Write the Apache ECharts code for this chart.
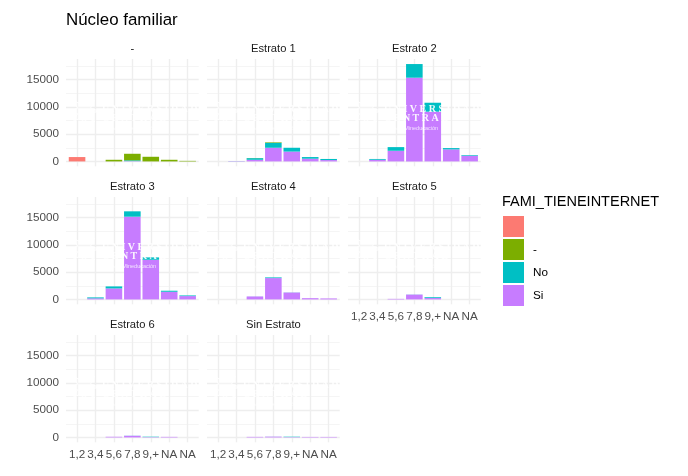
<!DOCTYPE html>
<html>
<head>
<meta charset="utf-8">
<script src="https://cdn.jsdelivr.net/npm/echarts@6/dist/echarts.min.js"></script>
<style>html,body{margin:0;padding:0;background:#fff}#c{width:688px;height:476px}</style>
</head>
<body>
<div id="c"></div>
<script>
const chartTitle = 'Núcleo familiar';
const legendTitle = 'FAMI_TIENEINTERNET';
const panelNames = ['-', 'Estrato 1', 'Estrato 2', 'Estrato 3', 'Estrato 4', 'Estrato 5', 'Estrato 6', 'Sin Estrato'];
const xLabels = ['1,2', '3,4', '5,6', '7,8', '9,+', 'NA', 'NA'];
const xPositions = [1, 2, 3, 4, 5, 6, 7];
const yMajor = [0, 5000, 10000, 15000];
const yMinor = [2500, 7500, 12500, 17500];
const seriesNames = [' ', '-', 'No', 'Si'];
const seriesColors = ['#FC7A72', '#7CAE00', '#00BFC4', '#C77CFF'];

// each list: one value per x category, per panel
const blank = [
  [800, 0, 0, 0, 0, 0, 0],
  [0, 0, 0, 0, 0, 0, 0],
  [0, 0, 0, 0, 0, 0, 0],
  [0, 0, 0, 0, 0, 0, 0],
  [0, 0, 0, 0, 0, 0, 0],
  [0, 0, 0, 0, 0, 0, 0],
  [0, 0, 0, 0, 0, 0, 0],
  [0, 0, 0, 0, 0, 0, 0]
];
const dash = [
  [0, 0, 300, 1200, 850, 300, 100],
  [0, 0, 20, 100, 0, 0, 0],
  [0, 0, 0, 0, 0, 0, 0],
  [0, 0, 0, 0, 0, 0, 0],
  [0, 0, 0, 0, 0, 0, 0],
  [0, 0, 0, 0, 0, 0, 0],
  [0, 0, 0, 0, 0, 0, 0],
  [0, 0, 0, 0, 0, 0, 0]
];
const no = [
  [0, 0, 0, 150, 0, 0, 0],
  [0, 20, 300, 900, 700, 300, 200],
  [0, 150, 670, 2500, 1640, 240, 120],
  [0, 170, 370, 980, 430, 190, 120],
  [0, 0, 10, 130, 20, 0, 0],
  [0, 0, 0, 20, 150, 0, 0],
  [0, 0, 0, 20, 70, 0, 0],
  [0, 0, 0, 10, 70, 0, 0]
];
const si = [
  [0, 0, 0, 50, 0, 0, 0],
  [0, 60, 300, 2500, 1800, 500, 250],
  [0, 300, 1950, 15320, 9100, 2200, 1040],
  [0, 200, 2010, 15140, 7260, 1400, 610],
  [0, 0, 540, 3900, 1260, 230, 180],
  [0, 0, 100, 880, 250, 0, 0],
  [0, 0, 120, 300, 60, 100, 0],
  [0, 0, 100, 140, 60, 90, 90]
];

const valuesBySeries = [blank, dash, no, si];

const panelLefts = [66, 207, 348];
const rowTops = [59, 197, 335];
const panelW = 132.7, panelH = 107.3;
const yMin = -893, yMax = 18743;
const xPad = 0.6;                 // x expansion of the original plot, in category units
const step = panelW / (xLabels.length - 1 + 2 * xPad);
const inset = (xPad - 0.5) * step;
const GRID = '#EEEEEE', GRID_MINOR = '#F5F5F5';
const LABEL = {fontFamily: 'Liberation Sans', fontSize: 11.7, color: '#4D4D4D'};

const grids = [], xAxes = [], yAxes = [], series = [], titles = [], graphics = [];

titles.push({text: chartTitle, left: 66, top: 12, padding: 0, textStyle: {fontFamily: 'Liberation Sans', fontSize: 16.9, fontWeight: 'normal', color: '#000'}});
titles.push({text: legendTitle, left: 502, top: 194, padding: 0, textStyle: {fontFamily: 'Liberation Sans', fontSize: 14.5, fontWeight: 'normal', color: '#000'}});

panelNames.forEach((name, p) => {
  const col = p % 3, row = Math.floor(p / 3);
  const left = panelLefts[col], top = rowTops[row];
  const showX = p >= 5, showY = col === 0;

  // back grid: the panel's gridlines and y labels
  const back = grids.length;
  grids.push({left: left, top: top, width: panelW, height: panelH});
  xAxes.push({
    type: 'value', gridIndex: back, min: 1 - xPad, max: xLabels.length + xPad,
    axisLine: {show: false},
    axisTick: {show: false, customValues: xPositions},
    splitLine: {show: true, lineStyle: {color: GRID, width: 1.4}},
    axisLabel: {show: false, customValues: xPositions}
  });
  yAxes.push({
    type: 'value', gridIndex: back, min: yMin, max: yMax,
    axisLine: {show: false},
    axisTick: {show: false, customValues: yMinor},
    splitLine: {show: true, lineStyle: {color: GRID_MINOR, width: 1}},
    axisLabel: {show: false, customValues: yMinor}
  });
  yAxes.push({
    type: 'value', gridIndex: back, min: yMin, max: yMax,
    axisLine: {show: false},
    axisTick: {show: false, customValues: yMajor},
    splitLine: {show: true, lineStyle: {color: GRID, width: 1.4}},
    axisLabel: Object.assign({show: showY, customValues: yMajor, margin: 7, formatter: v => String(v)}, LABEL),
    position: 'left'
  });

  // front grid: the bars and the category labels
  const front = grids.length;
  grids.push({left: left + inset, top: top, width: panelW - 2 * inset, height: panelH});
  xAxes.push({
    type: 'category', gridIndex: front, data: xLabels, boundaryGap: true,
    axisLine: {show: false}, axisTick: {show: false}, splitLine: {show: false},
    axisLabel: Object.assign({show: showX, interval: 0, margin: 6, hideOverlap: false}, LABEL)
  });
  const frontY = yAxes.length;
  yAxes.push({
    type: 'value', gridIndex: front, min: yMin, max: yMax,
    axisLine: {show: false}, axisTick: {show: false}, splitLine: {show: false}, axisLabel: {show: false}
  });

  // the last legend entry sits at the bottom of each stack
  for (let s = seriesNames.length - 1; s >= 0; s--) {
    series.push({
      name: seriesNames[s], type: 'bar', stack: 'p' + p, xAxisIndex: xAxes.length - 1, yAxisIndex: frontY,
      barWidth: '90%', z: 3, silent: true,
      itemStyle: {color: seriesColors[s]},
      data: valuesBySeries[s][p]
    });
  }

  titles.push({
    text: name, left: left + panelW / 2, top: top - 16, padding: 0, textAlign: 'center',
    textStyle: {fontFamily: 'Liberation Sans', fontSize: 11.2, fontWeight: 'normal', color: '#1A1A1A'}
  });

  // faint watermark laid over every panel
  const cx = left + 18, cy = top + 52, pts = [];
  for (let k = 0; k < 16; k++) {
    const r = k % 2 ? 7 : 15, a = k * Math.PI / 8 - Math.PI / 2;
    pts.push([cx + r * Math.cos(a), cy + r * Math.sin(a)]);
  }
  graphics.push({type: 'polygon', z: 50, silent: true, shape: {points: pts}, style: {fill: 'rgba(255,255,255,0.35)', stroke: 'rgba(255,255,255,0.9)', lineWidth: 1}});
  graphics.push({type: 'text', z: 50, silent: true, x: left + 36, y: top + 45, style: {text: 'U N I V E R S I D A D', font: 'bold 10px "Liberation Serif"', fill: 'rgba(255,255,255,0.92)'}});
  graphics.push({type: 'text', z: 50, silent: true, x: left + 36, y: top + 54, style: {text: 'C E N T R A L', font: 'bold 10px "Liberation Serif"', fill: 'rgba(255,255,255,0.92)'}});
  graphics.push({type: 'text', z: 50, silent: true, x: left + 36, y: top + 66, style: {text: 'vigilada Mineducación', font: '5.5px "Liberation Sans"', fill: 'rgba(255,255,255,0.8)'}});
});

const chart = echarts.init(document.getElementById('c'), null, {renderer: 'canvas'});
chart.setOption({
  animation: false,
  backgroundColor: '#fff',
  title: titles,
  grid: grids,
  xAxis: xAxes,
  yAxis: yAxes,
  series: series,
  graphic: graphics,
  legend: {
    left: 503, top: 216, padding: 0, orient: 'vertical', itemWidth: 21, itemHeight: 21, itemGap: 2,
    icon: 'rect', selectedMode: false, data: seriesNames,
    textStyle: {fontFamily: 'Liberation Sans', fontSize: 11.7, color: '#000', padding: [2, 0, 0, 4]}
  }
});
</script>
</body>
</html>
